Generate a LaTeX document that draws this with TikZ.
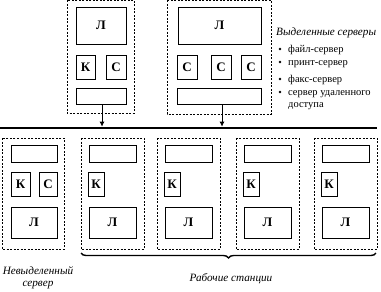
\documentclass[tikz,border=0pt]{standalone}
\usepackage{fontspec}
\setmainfont{Liberation Serif}
\usetikzlibrary{arrows.meta,decorations.pathreplacing}
\begin{document}
\begin{tikzpicture}[x=1pt,y=-1pt,
  unit/.style={draw,dash pattern=on 2pt off 1.5pt,line width=0.7pt},
  part/.style={draw,line width=0.7pt,font=\bfseries\fontsize{13}{14}\selectfont,inner sep=0pt},
  lbl/.style={font=\itshape\fontsize{11.2}{12}\selectfont,align=center},
  itm/.style={font=\fontsize{10.5}{11}\selectfont,anchor=base west,inner sep=0pt,align=left}]
\useasboundingbox (0,0) rectangle (381,292);
% top servers
\path[unit] (67,0) rectangle (134,113);
\node[part,minimum width=50pt,minimum height=37pt] (s1L) at (101,25.5) {Л};
\node[part,minimum width=19pt,minimum height=24pt] (s1K) at (85.5,67) {К};
\node[part,minimum width=20pt,minimum height=24pt] (s1C) at (116,67) {С};
\node[part,minimum width=50pt,minimum height=16pt] (s1N) at (101,96) {};
\path[unit] (167,0) rectangle (271,114);
\node[part,minimum width=83pt,minimum height=37pt] (s2L) at (219.5,25.5) {Л};
\node[part,minimum width=20pt,minimum height=24pt] (s2C1) at (187,67) {С};
\node[part,minimum width=20pt,minimum height=24pt] (s2C2) at (221,67) {С};
\node[part,minimum width=20pt,minimum height=24pt] (s2C3) at (251,67) {С};
\node[part,minimum width=84pt,minimum height=16pt] (s2N) at (219,96) {};
% bus
\coordinate (busL) at (0,128);
\coordinate (busR) at (377,128);
\draw[line width=2.6pt] (busL) -- (busR);
\coordinate (b1) at (102,126.7);
\coordinate (b2) at (222,126.7);
\draw[line width=0.9pt,-{Latex[length=5pt,width=5pt]}] (s1N.south -| b1) -- (b1);
\draw[line width=0.9pt,-{Latex[length=5pt,width=5pt]}] (s2N.south -| b2) -- (b2);
% text
\node[lbl,anchor=base west,inner sep=0pt] (hdr) at (276,35) {Выделенные серверы};
\foreach \y/\t [count=\i] in {49/файл-сервер,62/принт-сервер,79/факс-сервер,92/сервер удаленного}{
  \fill (280,\y) circle (1.4pt);
  \node[itm] (it\i) at (288,\y+3) {\t};
}
\node[itm] (it5) at (288,107) {доступа};
% bottom row
\path[unit] (2,138) rectangle (64,249);
\node[part,minimum width=46pt,minimum height=17pt] (w0N) at (34,153.5) {};
\node[part,minimum width=19pt,minimum height=24pt] (w0K) at (20.5,184) {К};
\node[part,minimum width=18pt,minimum height=24pt] (w0C) at (48,184) {С};
\node[part,minimum width=46pt,minimum height=31pt] (w0L) at (34,222.5) {Л};
\foreach \x [count=\i] in {81,157,236,314}{
  \path[unit] (\x,138) rectangle (\x+63,249);
  \node[part,minimum width=47pt,minimum height=17pt] (w\i N) at (\x+31.5,153.5) {};
  \node[part,minimum width=16pt,minimum height=24pt] (w\i K) at (\x+15,184) {К};
  \node[part,minimum width=47pt,minimum height=31pt] (w\i L) at (\x+31.5,222.5) {Л};
}
\coordinate (brL) at (81,253);
\coordinate (brR) at (376,253);
\draw[line width=1.4pt,decorate,decoration={brace,mirror,amplitude=5pt}] (brL) -- (brR);
\node[lbl,anchor=base] (ws) at (231,281) {Рабочие станции};
\node[lbl,anchor=base] (ns1) at (38,274) {Невыделенный};
\node[lbl,anchor=base] (ns2) at (38,286) {сервер};
\end{tikzpicture}
\end{document}
